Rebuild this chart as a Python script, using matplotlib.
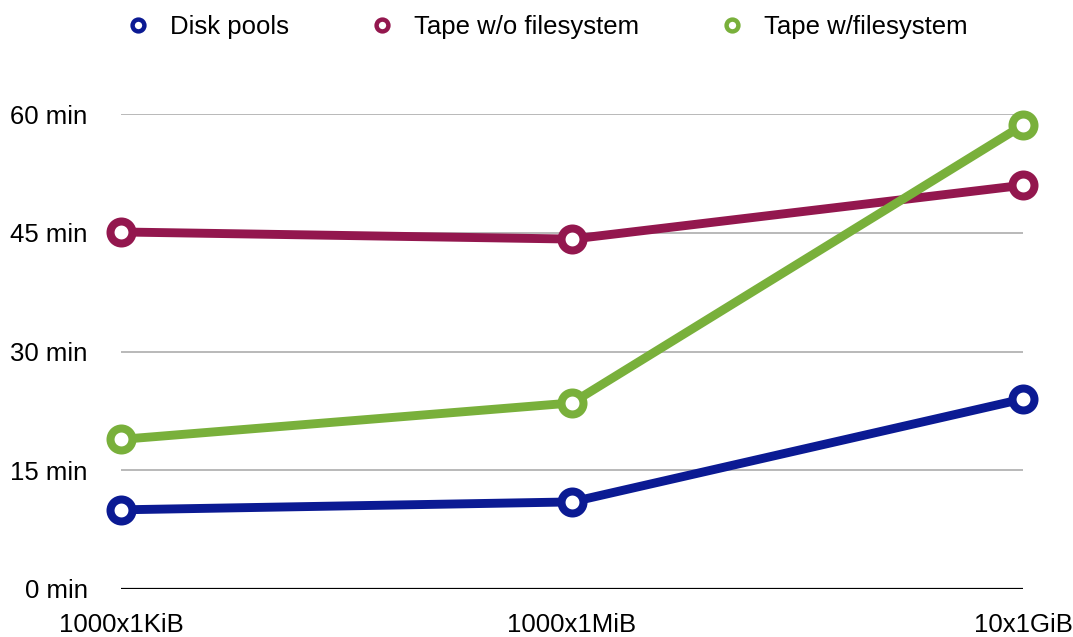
import matplotlib
matplotlib.use("Agg")
import matplotlib.pyplot as plt
from matplotlib.lines import Line2D

plt.rcParams['font.family'] = ['Liberation Sans', 'DejaVu Sans']

categories = ["1000x1KiB", "1000x1MiB", "10x1GiB"]
disk_pools = [10.0, 11.0, 24.0]
tape_no_fs = [45.1, 44.2, 51.0]
tape_fs = [18.9, 23.5, 58.6]
series_names = ["Disk pools", "Tape w/o filesystem", "Tape w/filesystem"]
colors = ["#0b1a93", "#93174e", "#79b03b"]
y_ticks = [0, 15, 30, 45, 60]
y_labels = ["0 min", "15 min", "30 min", "45 min", "60 min"]

FS = 18.5

fig = plt.figure(figsize=(10.73, 6.37), dpi=100)
ax = fig.add_axes([121 / 1073, 1 - 589 / 637, 902 / 1073, 475 / 637])

x = list(range(len(categories)))
ax.set_xlim(0, len(categories) - 1)
ax.set_ylim(0, 60)

for yt in y_ticks[1:]:
    ax.axhline(yt, color="#b9b9b9", lw=1.4, zorder=1)
ax.axhline(0, color="black", lw=1.6, zorder=1)

for vals, c in zip([tape_no_fs, tape_fs, disk_pools], [colors[1], colors[2], colors[0]]):
    ax.plot(x, vals, color=c, lw=6.4, marker="o", markersize=15.8,
            markeredgewidth=5.8, markerfacecolor="white", markeredgecolor=c,
            clip_on=False, zorder=3, solid_capstyle="butt")

ax.set_xticks(x)
ax.set_xticklabels(categories, fontsize=FS)
ax.set_yticks(y_ticks)
ax.set_yticklabels(y_labels, fontsize=FS)
ax.tick_params(axis="both", length=0)
ax.tick_params(axis="x", pad=17)
ax.tick_params(axis="y", pad=24)
for s in ax.spines.values():
    s.set_visible(False)

handles = [Line2D([], [], ls="none", marker="o", markersize=8.5, markeredgewidth=3.2,
                  markerfacecolor="white", markeredgecolor=c) for c in colors]
fig.legend(handles, series_names, loc="center",
           bbox_to_anchor=(0.5 + 10 / 1073, 1 - 27 / 637),
           ncol=3, frameon=False, fontsize=FS, handlelength=1.0,
           handletextpad=0.75, columnspacing=3.1)

fig.savefig("out.png", dpi=100)
